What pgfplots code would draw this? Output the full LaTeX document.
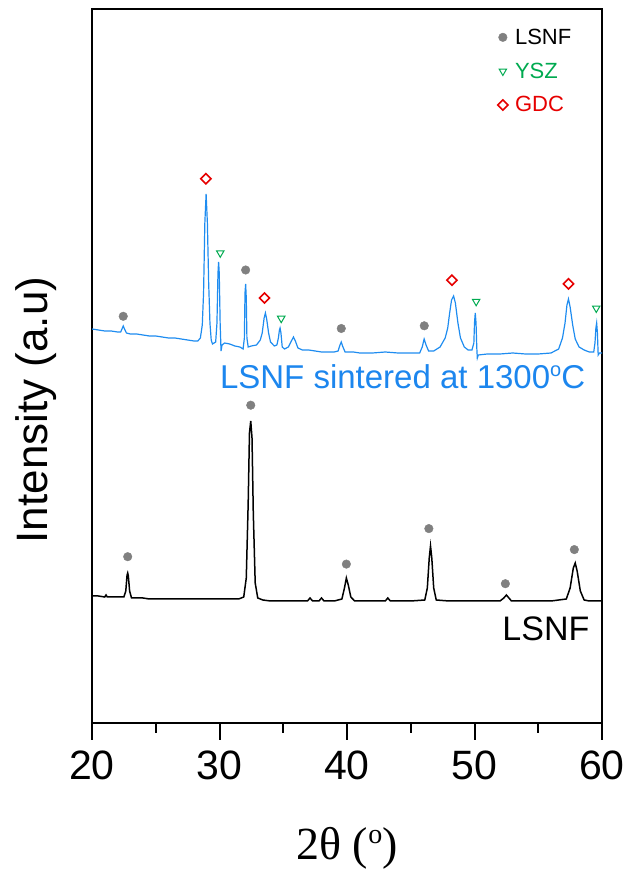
\documentclass[border=0pt]{standalone}
\usepackage{pgfplots}
\pgfplotsset{compat=1.18}
\usepackage{fontspec}
\setmainfont{Liberation Sans}
\newfontfamily\timesfont{Liberation Serif}
\definecolor{curveblue}{RGB}{30,140,240}
\definecolor{txtblue}{RGB}{28,134,238}
\definecolor{dotgray}{RGB}{128,128,128}
\definecolor{ysz}{RGB}{0,170,80}
\definecolor{gdc}{RGB}{230,0,0}
\begin{document}
\begin{tikzpicture}[x=1pt,y=1pt]
\path[use as bounding box] (0,0) rectangle (630,875);
\begin{axis}[at={(92pt,152pt)}, anchor=south west, scale only axis,
  width=510pt, height=714pt, xmin=20, xmax=60, ymin=0, ymax=714,
  axis line style={line width=2pt}, ytick=\empty,
  xtick={20,30,40,50,60}, minor xtick={25,35,45,55}, xtick pos=bottom,
  tick align=outside, major tick length=17pt, minor tick length=10pt,
  every tick/.style={black, line width=2pt},
  tick label style={font=\fontsize{41}{48}\selectfont},
  xticklabel style={yshift=-7pt},
  /pgf/number format/assume math mode=true,
  legend style={at={(axis description cs:0.95,0.978)}, anchor=north east, draw=none, fill=none,
    font=\fontsize{22}{26}\selectfont, row sep=13pt},
  legend cell align=left,
  legend image code/.code={\draw[#1] plot coordinates {(0pt,0pt)}; \path (-5pt,0pt) (10pt,0pt);},
  clip=true]
\addlegendimage{only marks, mark=*, mark size=4.3pt, draw=dotgray, fill=dotgray}
\addlegendentry{LSNF}
\addlegendimage{only marks, mark=triangle, mark size=4.3pt, mark options={rotate=180, line width=1pt}, color=ysz}
\addlegendentry{\textcolor{ysz}{YSZ}}
\addlegendimage{only marks, mark=square, mark size=3.6pt, mark options={rotate=45, line width=1.6pt}, color=gdc}
\addlegendentry{\textcolor{gdc}{GDC}}
% sintered pattern
\addplot[curveblue, line width=1.2pt, forget plot] coordinates {
(20.0,394) (20.5,393) (21.0,392) (21.5,392) (22.0,391) (22.25,391) (22.35,394) (22.45,397) (22.55,394) (22.7,390) (23.0,389) (23.5,389) (24.0,388) (24.5,387) (25.0,387) (25.5,386) (26.0,385) (26.5,385) (27.0,384) (27.5,383) (28.0,382) (28.3,382)
(28.5,385) (28.65,398) (28.75,430) (28.85,500) (28.95,529) (29.05,500) (29.15,440) (29.25,400) (29.35,383) (29.45,379)
(29.7,381) (29.8,400) (29.88,450) (29.93,461) (29.98,450) (30.05,400) (30.12,372) (30.2,378) (30.4,380) (30.8,379) (31.2,377) (31.6,376)
(31.85,374) (31.95,385) (32.0,430) (32.05,439) (32.1,425) (32.15,385) (32.25,376) (32.5,377) (32.9,378) (33.2,383)
(33.35,390) (33.5,405) (33.6,410) (33.7,404) (33.85,390) (34.0,381) (34.3,377) (34.5,378)
(34.62,385) (34.7,393) (34.75,395) (34.82,390) (34.92,376) (35.1,374) (35.4,376) (35.6,381) (35.8,386) (35.95,382) (36.15,375) (36.5,373)
(37,373) (37.5,372) (38,371) (38.5,371) (39.0,371) (39.3,372) (39.45,378) (39.55,381) (39.65,377) (39.85,371) (40.5,371) (41,370) (41.5,370) (42,370) (43,371) (44,370) (45,370) (45.7,370) (45.9,376) (46.05,384) (46.2,378) (46.4,372) (46.8,372) (47.3,376) (47.7,385)
(47.9,395) (48.05,410) (48.2,423) (48.36,427) (48.5,420) (48.7,400) (48.9,385) (49.2,376) (49.5,373) (49.8,373)
(49.95,380) (50.0,400) (50.06,410) (50.12,400) (50.18,375) (50.22,365) (50.3,368) (51,369) (52,369) (53,370) (54,369) (55,369) (56,370) (56.6,374) (56.9,385)
(57.1,400) (57.25,418) (57.37,424) (57.5,416) (57.7,398) (57.9,384) (58.2,376) (58.6,373) (59.0,371) (59.35,371)
(59.45,380) (59.52,395) (59.58,400) (59.64,390) (59.7,368) (59.8,370) (60.0,370)
};
% LSNF pattern
\addplot[black, line width=1.5pt, forget plot] coordinates {
(20.0,127) (20.5,127) (21.0,126) (21.1,128) (21.2,126) (21.6,126) (22.0,126) (22.5,126) (22.65,132) (22.75,148) (22.8,150) (22.85,147) (22.95,132) (23.1,125) (23.5,125) (24,125) (24.5,124) (25,124) (25.5,124) (26,124) (28,124) (30,124) (31.5,124)
(31.9,126) (32.1,145) (32.25,220) (32.35,290) (32.45,302) (32.55,285) (32.65,210) (32.8,140) (33.0,125) (33.4,123) (34,122) (35,122) (36,122) (36.9,122) (37.1,125) (37.3,122) (37.8,122) (38.0,125) (38.2,122) (39,122)
(39.6,124) (39.8,135) (39.95,145) (40.1,138) (40.3,126) (40.6,122) (41,122) (42,122) (43,122) (43.2,125) (43.4,122) (44,122) (45,122)
(46.1,123) (46.3,135) (46.45,165) (46.55,177) (46.65,165) (46.8,135) (47.0,123) (48,122) (50,122) (51,122) (52,122)
(52.3,125) (52.5,128) (52.7,125) (52.9,122) (54,122) (56,122) (57.2,124) (57.5,135) (57.75,155) (57.9,160) (58.05,152) (58.3,132) (58.6,123) (59,122) (60,122)
};
% markers
\addplot[only marks, mark=*, mark size=4.3pt, draw=dotgray, fill=dotgray, forget plot] coordinates {
(22.45,406.7) (32.05,453) (39.55,394.5) (46.06,397.2)
(22.8,166.3) (32.45,317.8) (39.95,158.9) (46.42,194.4) (52.42,139.3) (57.83,173.4)
};
\addplot[only marks, mark=triangle, mark size=4.3pt, mark options={rotate=180, line width=1pt}, color=ysz, forget plot] coordinates {
(30.06,470) (34.84,404.6) (50.13,421.5) (59.55,414.8)
};
\addplot[only marks, mark=square, mark size=3.6pt, mark options={rotate=45, line width=1.6pt}, color=gdc, forget plot] coordinates {
(28.93,544.3) (33.53,425) (48.23,442.8) (57.37,439.1)
};
\node[anchor=base, font=\fontsize{33}{38}\selectfont, text=txtblue] at (axis description cs:0.609,0.469) {LSNF sintered at 1300\raisebox{12pt}{\fontsize{20}{22}\selectfont o}C};
\node[anchor=base, font=\fontsize{34}{40}\selectfont] at (axis description cs:0.890,0.115) {LSNF};
\end{axis}
\node[anchor=base, rotate=90, font=\fontsize{44}{50}\selectfont] at (47,465) {Intensity (a.u)};
\node[anchor=base, font=\fontsize{46}{52}\selectfont\timesfont] at (347,15) {2θ (\raisebox{17pt}{\fontsize{28}{30}\selectfont o})};
\end{tikzpicture}
\end{document}
